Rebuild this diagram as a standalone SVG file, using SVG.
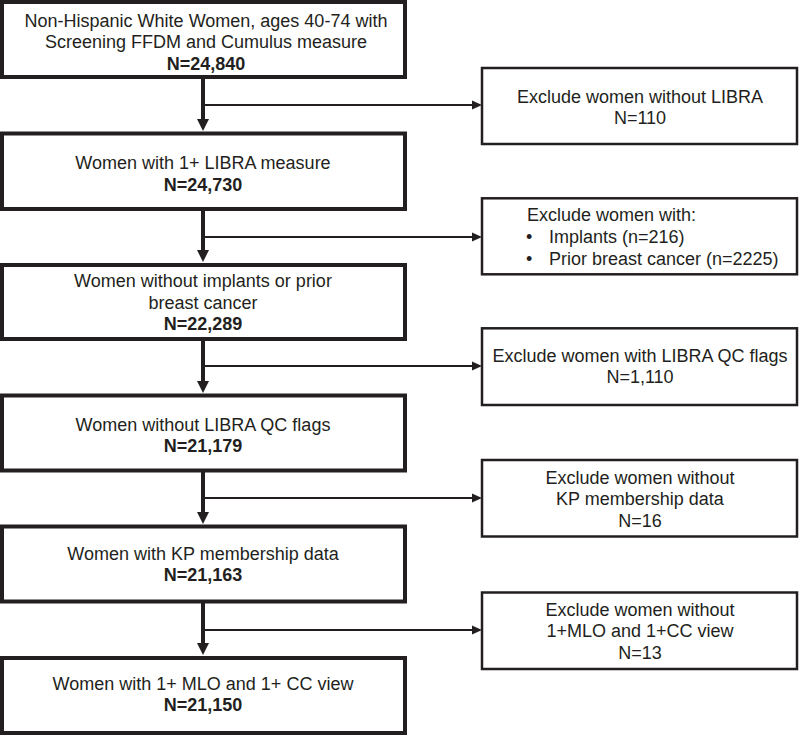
<svg xmlns="http://www.w3.org/2000/svg" width="800" height="735" viewBox="0 0 800 735">
<style>
.main{fill:#fff;stroke:#231f20;stroke-width:4}
.exc{fill:#fff;stroke:#231f20;stroke-width:2.5}
text{font-family:"Liberation Sans",Arial,sans-serif;font-size:18px;fill:#231f20}
.c{text-anchor:middle}
.b{font-weight:bold}
.trunk{stroke:#231f20;stroke-width:4;fill:none}
.br{stroke:#231f20;stroke-width:1.8;fill:none}
.ah{fill:#231f20}
</style>
<rect width="800" height="735" fill="#fff"/>
<g id="connectors">
<line class="trunk" x1="203" y1="77" x2="203" y2="124"/>
<polygon class="ah" points="197,119 209,119 203,131"/>
<line class="br" x1="203" y1="105" x2="474" y2="105"/>
<polygon class="ah" points="472,100.5 482,105 472,109.5"/>

<line class="trunk" x1="203" y1="209" x2="203" y2="255"/>
<polygon class="ah" points="197,250 209,250 203,262"/>
<line class="br" x1="203" y1="237" x2="474" y2="237"/>
<polygon class="ah" points="472,232.5 482,237 472,241.5"/>

<line class="trunk" x1="203" y1="339" x2="203" y2="386"/>
<polygon class="ah" points="197,381 209,381 203,393"/>
<line class="br" x1="203" y1="366" x2="474" y2="366"/>
<polygon class="ah" points="472,361.5 482,366 472,370.5"/>

<line class="trunk" x1="203" y1="470.5" x2="203" y2="517"/>
<polygon class="ah" points="197,512 209,512 203,524"/>
<line class="br" x1="203" y1="498" x2="474" y2="498"/>
<polygon class="ah" points="472,493.5 482,498 472,502.5"/>

<line class="trunk" x1="203" y1="601.5" x2="203" y2="648"/>
<polygon class="ah" points="197,643 209,643 203,655"/>
<line class="br" x1="203" y1="630" x2="474" y2="630"/>
<polygon class="ah" points="472,625.5 482,630 472,634.5"/>
</g>

<g id="n1">
<rect class="main" x="2" y="2" width="403" height="75"/>
<text class="c" x="206" y="26.5">Non-Hispanic White Women, ages 40-74 with</text>
<text class="c" x="206" y="48">Screening FFDM and Cumulus measure</text>
<text class="c b" x="206" y="70">N=24,840</text>
</g>
<g id="n2">
<rect class="main" x="2" y="133.5" width="403" height="75.5"/>
<text class="c" x="203" y="169.3">Women with 1+ LIBRA measure</text>
<text class="c b" x="203" y="190.7">N=24,730</text>
</g>
<g id="n3">
<rect class="main" x="2" y="265" width="403" height="74"/>
<text class="c" x="203" y="287.3">Women without implants or prior</text>
<text class="c" x="203" y="309">breast cancer</text>
<text class="c b" x="203" y="330">N=22,289</text>
</g>
<g id="n4">
<rect class="main" x="2" y="395.5" width="403" height="75"/>
<text class="c" x="203" y="430.7">Women without LIBRA QC flags</text>
<text class="c b" x="203" y="451.7">N=21,179</text>
</g>
<g id="n5">
<rect class="main" x="2" y="526.5" width="403" height="75"/>
<text class="c" x="203" y="560">Women with KP membership data</text>
<text class="c b" x="203" y="581">N=21,163</text>
</g>
<g id="n6">
<rect class="main" x="2" y="658" width="403" height="75"/>
<text class="c" x="203" y="690">Women with 1+ MLO and 1+ CC view</text>
<text class="c b" x="203" y="711">N=21,150</text>
</g>

<g id="e1">
<rect class="exc" x="482" y="68" width="315" height="76"/>
<text class="c" x="640" y="103.3">Exclude women without LIBRA</text>
<text class="c" x="640" y="124.3">N=110</text>
</g>
<g id="e2">
<rect class="exc" x="482" y="198.3" width="315" height="76"/>
<text x="527" y="221">Exclude women with:</text>
<text x="526" y="243.3">•</text>
<text x="549" y="243.3">Implants (n=216)</text>
<text x="526" y="265">•</text>
<text x="549" y="265">Prior breast cancer (n=2225)</text>
</g>
<g id="e3">
<rect class="exc" x="482" y="328.3" width="315" height="76.7"/>
<text class="c" x="640" y="361.7">Exclude women with LIBRA QC flags</text>
<text class="c" x="640" y="383.3">N=1,110</text>
</g>
<g id="e4">
<rect class="exc" x="482" y="460" width="315" height="76.5"/>
<text class="c" x="640" y="484.3">Exclude women without</text>
<text class="c" x="640" y="505">KP membership data</text>
<text class="c" x="640" y="526.7">N=16</text>
</g>
<g id="e5">
<rect class="exc" x="482" y="592.5" width="315" height="76.5"/>
<text class="c" x="640" y="616">Exclude women without</text>
<text class="c" x="640" y="637.3">1+MLO and 1+CC view</text>
<text class="c" x="640" y="659">N=13</text>
</g>
</svg>
